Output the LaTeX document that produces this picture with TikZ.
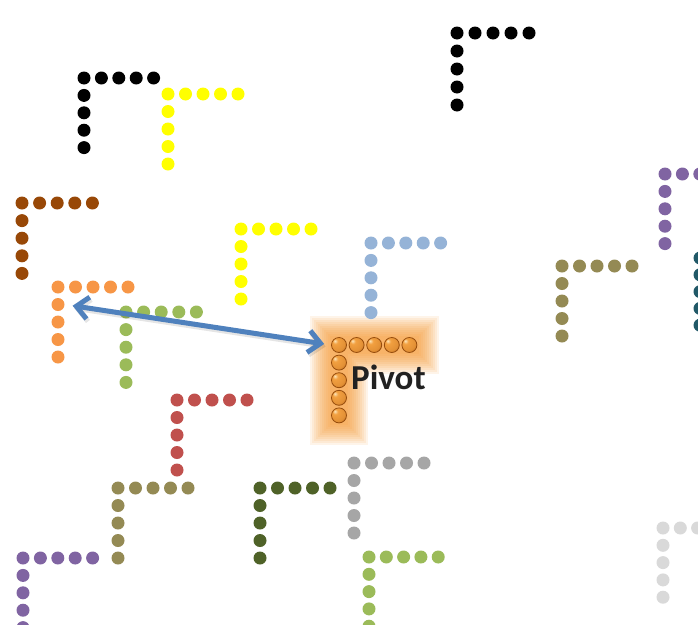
\documentclass[tikz,border=0pt]{standalone}
\usepackage{fontspec}
\setmainfont{Carlito}
\usetikzlibrary{arrows.meta,calc}

\definecolor{cBlack}{HTML}{000000}
\definecolor{cYellow}{HTML}{FFFF00}
\definecolor{cBrown}{HTML}{984807}
\definecolor{cOrange}{HTML}{F79646}
\definecolor{cGreen}{HTML}{9BBB59}
\definecolor{cBlue}{HTML}{95B3D7}
\definecolor{cOlive}{HTML}{948A54}
\definecolor{cPurple}{HTML}{8064A2}
\definecolor{cTeal}{HTML}{215968}
\definecolor{cRed}{HTML}{C0504D}
\definecolor{cDarkGreen}{HTML}{4F6228}
\definecolor{cGray}{HTML}{A6A6A6}
\definecolor{cLightGray}{HTML}{D9D9D9}
\definecolor{cArrow}{HTML}{4F81BD}
\definecolor{cGlow}{HTML}{F8952A}
\definecolor{cBallHi}{HTML}{FCE6BC}
\definecolor{cBallMid}{HTML}{F2A040}
\definecolor{cBallRim}{HTML}{A8560F}

% glossy orange bead
\pgfdeclareradialshading{beadshade}{\pgfpoint{-14bp}{14bp}}{%
  color(0bp)=(cBallHi); color(9bp)=(cBallMid); color(28bp)=(cBallMid!80!cBallRim);
  color(48bp)=(cBallRim); color(80bp)=(cBallRim)}

\tikzset{
  bead/.style={circle, inner sep=0pt, minimum size=13pt, fill=#1, draw=none},
  ballbead/.style={circle, inner sep=0pt, minimum size=15pt, shading=beadshade,
    draw=cBallRim!90!black, line width=0.8pt},
  glowband/.style={draw=cGlow, line width=#1, line cap=rect, line join=miter, opacity=0.10},
  linkarrow/.style={draw=cArrow, line width=5pt,
    {Straight Barb[length=12pt,width=22pt,line width=5pt]}-{Straight Barb[length=12pt,width=22pt,line width=5pt]}},
  pivotlabel/.style={font=\bfseries\fontsize{35}{38}\selectfont, text=black!87, inner sep=0pt, anchor=base west},
}

% An L of nine beads: corner, four to the right, four below
\newcommand\beadL[5]{% #1 name, #2 style, #3 x, #4 y, #5 spacing
  \node[#2] (#1) at (#3,#4) {};
  \foreach \k in {1,...,4} {
    \node[#2] (#1-h\k) at ({#3+#5*\k},#4) {};
    \node[#2] (#1-v\k) at (#3,{#4+#5*\k}) {};
  }
}

\begin{document}
\begin{tikzpicture}[x=1pt,y=-1pt]
  \useasboundingbox (0,0) rectangle (698,624);
  \fill[white] (0,0) rectangle (698,624);
  \clip (0,0) rectangle (698,624);

  % soft orange halo behind the pivot piece
  \foreach \w in {58,54,...,18} {
    \draw[glowband=\w pt] (410,345) -- (339,345) -- (339,416);
  }

  % plain pieces
  \beadL{blackA}{bead=cBlack}{84}{78}{17.4}
  \beadL{yellowA}{bead=cYellow}{168}{94}{17.5}
  \beadL{brownA}{bead=cBrown}{22}{203}{17.6}
  \beadL{yellowB}{bead=cYellow}{241}{229}{17.5}
  \beadL{orangeA}{bead=cOrange}{58}{287}{17.5}
  \beadL{greenA}{bead=cGreen}{126}{312}{17.6}
  \beadL{blackB}{bead=cBlack}{457}{33}{18}
  \beadL{blueA}{bead=cBlue}{371}{243}{17.4}
  \beadL{oliveA}{bead=cOlive}{562}{266}{17.5}
  \beadL{purpleA}{bead=cPurple}{665}{174}{17.4}
  \beadL{tealA}{bead=cTeal}{700}{258}{16.8}
  \beadL{redA}{bead=cRed}{177}{400}{17.5}
  \beadL{oliveB}{bead=cOlive}{118}{488}{17.5}
  \beadL{darkgreenA}{bead=cDarkGreen}{260}{488}{17.5}
  \beadL{purpleB}{bead=cPurple}{23}{558}{17.4}
  \beadL{grayA}{bead=cGray}{354}{463}{17.5}
  \beadL{greenB}{bead=cGreen}{369}{557}{17.3}
  \beadL{lightgrayA}{bead=cLightGray}{663}{528}{17.3}

  % pivot piece
  \beadL{pivot}{ballbead}{339}{345}{17.6}
  \node[pivotlabel] (pivotText) at (351,389) {Pivot};

  % double arrow between the orange piece and the pivot
  \draw[linkarrow, draw=black, opacity=0.10, transform canvas={shift={(1.5pt,-2.5pt)}},
        shorten <=8pt, shorten >=7pt] (orangeA-v1.east) -- (pivot.west);
  \draw[linkarrow, shorten <=8pt, shorten >=7pt] (orangeA-v1.east) -- (pivot.west);
\end{tikzpicture}
\end{document}
